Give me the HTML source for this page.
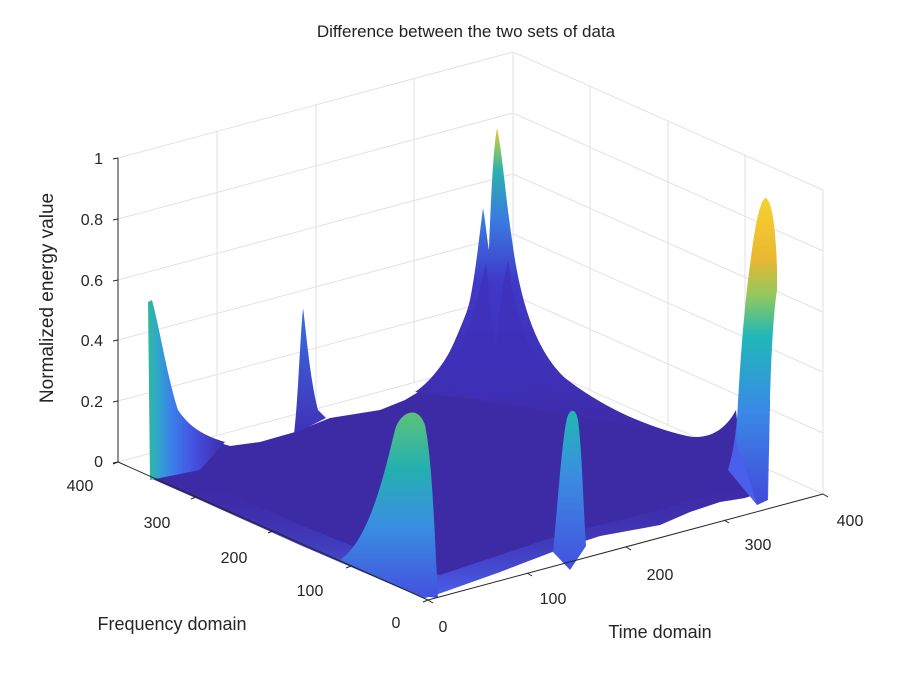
<!DOCTYPE html>
<html><head><meta charset="utf-8"><style>
body{margin:0;background:#fff;}
svg{display:block;font-family:"Liberation Sans",sans-serif;}
</style></head><body>
<svg width="900" height="678" viewBox="0 0 900 678">
<defs>
<linearGradient id="gl" x1="0" y1="0" x2="1" y2="0"><stop offset="0" stop-color="#2fb8a0"/><stop offset="0.12" stop-color="#30a8c8"/><stop offset="0.3" stop-color="#3c80ec"/><stop offset="0.6" stop-color="#4450e0"/><stop offset="1" stop-color="#3e2ba8"/></linearGradient>
<linearGradient id="gc" x1="0" y1="0" x2="0" y2="1"><stop offset="0" stop-color="#f2c43a"/><stop offset="0.06" stop-color="#8cc860"/><stop offset="0.14" stop-color="#2cb0b0"/><stop offset="0.3" stop-color="#3a7ae0"/><stop offset="0.5" stop-color="#4038c8"/><stop offset="1" stop-color="#3e2aa8"/></linearGradient>
<linearGradient id="gr" x1="0" y1="0" x2="0" y2="1"><stop offset="0" stop-color="#f8d030"/><stop offset="0.2" stop-color="#e8b830"/><stop offset="0.32" stop-color="#90c860"/><stop offset="0.45" stop-color="#20b8b8"/><stop offset="0.7" stop-color="#3a88e8"/><stop offset="1" stop-color="#4448d8"/></linearGradient>
<linearGradient id="gm" x1="0" y1="0" x2="0" y2="1"><stop offset="0" stop-color="#5cc27a"/><stop offset="0.3" stop-color="#24b0b0"/><stop offset="0.6" stop-color="#3890e0"/><stop offset="1" stop-color="#4450e0"/></linearGradient>
<linearGradient id="gn" x1="0" y1="0" x2="0" y2="1"><stop offset="0" stop-color="#20b8b0"/><stop offset="0.4" stop-color="#3a8ee0"/><stop offset="1" stop-color="#4450e0"/></linearGradient>
<linearGradient id="gs" x1="0" y1="0" x2="0" y2="1"><stop offset="0" stop-color="#3a70e0"/><stop offset="1" stop-color="#4030b8"/></linearGradient>
<linearGradient id="gf" x1="0" y1="0" x2="0" y2="1"><stop offset="0" stop-color="#3e2ba8" stop-opacity="0"/><stop offset="1" stop-color="#4a62f0"/></linearGradient>
</defs>
<text x="466" y="37" font-size="17" text-anchor="middle" fill="#222">Difference between the two sets of data</text>
<g stroke="#e2e2e2" stroke-width="1" fill="none">
<line x1="513" y1="52" x2="513" y2="356"/>
<line x1="118" y1="158" x2="513" y2="52"/>
<line x1="513" y1="52" x2="823" y2="190"/>
<line x1="823" y1="190" x2="823" y2="494"/>
<line x1="118" y1="219" x2="513" y2="113"/><line x1="118" y1="280" x2="513" y2="174"/><line x1="118" y1="340" x2="513" y2="234"/><line x1="118" y1="401" x2="513" y2="295"/><line x1="118" y1="462" x2="513" y2="356"/>
<line x1="513" y1="113" x2="823" y2="251"/><line x1="513" y1="174" x2="823" y2="312"/><line x1="513" y1="234" x2="823" y2="372"/><line x1="513" y1="295" x2="823" y2="433"/><line x1="513" y1="356" x2="823" y2="494"/>
<line x1="217" y1="132" x2="217" y2="436"/><line x1="316" y1="105" x2="316" y2="409"/><line x1="414" y1="79" x2="414" y2="383"/>
<line x1="590" y1="86" x2="590" y2="390"/><line x1="668" y1="121" x2="668" y2="425"/><line x1="745" y1="155" x2="745" y2="459"/>
</g>
<path fill="#3d2aa5" d="M150,478 L152,440 L210,440 L230,446 L260,442 L295,432 L330,418 L380,410 L405,400 L425,388 C445,370 460,330 475,290 L500,260 C515,300 530,350 560,378 C600,405 650,430 693,437 C715,438 728,425 736,410 L742,470 L768,490 L745,498 L720,502 L690,512 L660,525 L600,536 L560,549 L500,572 L438,594 L425,598 L400,588 L300,545 L200,500 Z"/>
<path fill="url(#gf)" d="M150,478 L200,480 L300,525 L400,565 L440,575 L500,555 L560,535 L660,510 L760,478 L768,490 L745,498 L720,502 L690,512 L660,525 L600,536 L560,549 L500,572 L438,594 L425,598 L400,588 L300,545 L200,500 Z"/>
<path fill="url(#gs)" d="M294,434 C298,400 300,340 303,308 C306,330 310,380 318,410 L326,418 Z"/>
<path fill="url(#gl)" d="M148,302 L152,300 C160,330 168,380 178,410 C190,428 205,436 225,442 L200,470 L150,480 Z"/>
<path fill="url(#gc)" d="M415,392 C440,375 460,340 470,300 C476,270 480,230 483,208 C486,225 487,240 489,250 C491,200 493,150 497,128 C502,150 506,200 512,240 C520,300 535,350 565,378 C600,405 640,425 690,437 L600,420 L480,400 Z"/>
<path fill="#3f30b8" opacity="0.75" d="M440,385 C465,350 478,300 486,262 C490,300 492,330 496,350 C500,300 504,280 508,260 C515,320 530,360 560,385 L480,400 Z"/>
<path fill="#4a60ec" d="M728,470 C734,450 736,430 738,410 L770,400 L768,500 L757,505 Z"/>
<path fill="url(#gr)" d="M736,440 C738,400 741,340 748,280 C752,250 757,205 765,198 C772,198 776,230 777,270 L777,290 C771,330 770,400 767,500 L757,505 C750,480 742,460 736,440 Z"/>
<path fill="url(#gm)" d="M340,560 C370,540 385,470 395,430 C400,412 418,404 425,425 C432,460 434,520 438,598 L420,596 Z"/>
<path fill="url(#gn)" d="M553,552 C558,500 562,440 567,418 C570,408 576,408 578,420 C582,450 583,500 586,546 L570,570 Z"/>
<g stroke="#262626" stroke-width="1" fill="none">
<line x1="118" y1="158" x2="118" y2="462"/>
<line x1="118" y1="462" x2="428" y2="600"/>
<line x1="428" y1="600" x2="823" y2="494"/>
<line x1="113" y1="159" x2="118" y2="158"/><line x1="113" y1="220" x2="118" y2="219"/><line x1="113" y1="281" x2="118" y2="280"/><line x1="113" y1="341" x2="118" y2="340"/><line x1="113" y1="402" x2="118" y2="401"/><line x1="113" y1="463" x2="118" y2="462"/>
<line x1="118" y1="462" x2="113" y2="464"/><line x1="196" y1="497" x2="191" y2="499"/><line x1="273" y1="531" x2="268" y2="533"/><line x1="351" y1="566" x2="346" y2="568"/><line x1="428" y1="600" x2="423" y2="602"/>
<line x1="428" y1="600" x2="433" y2="603"/><line x1="527" y1="573" x2="532" y2="576"/><line x1="626" y1="547" x2="631" y2="550"/><line x1="724" y1="520" x2="729" y2="523"/><line x1="823" y1="494" x2="828" y2="497"/>
</g>
<g font-size="16" fill="#262626">
<text x="103" y="164" text-anchor="end">1</text>
<text x="103" y="225" text-anchor="end">0.8</text>
<text x="103" y="286" text-anchor="end">0.6</text>
<text x="103" y="346" text-anchor="end">0.4</text>
<text x="103" y="407" text-anchor="end">0.2</text>
<text x="103" y="467" text-anchor="end">0</text>
<text x="80" y="491" text-anchor="middle">400</text>
<text x="157" y="528" text-anchor="middle">300</text>
<text x="234" y="563" text-anchor="middle">200</text>
<text x="310" y="596" text-anchor="middle">100</text>
<text x="396" y="628" text-anchor="middle">0</text>
<text x="443" y="632" text-anchor="middle">0</text>
<text x="553" y="604" text-anchor="middle">100</text>
<text x="660" y="580" text-anchor="middle">200</text>
<text x="758" y="550" text-anchor="middle">300</text>
<text x="850" y="526" text-anchor="middle">400</text>
</g>
<g font-size="18" fill="#262626">
<text x="172" y="630" text-anchor="middle">Frequency domain</text>
<text x="660" y="638" text-anchor="middle">Time domain</text>
<text transform="translate(53,298) rotate(-90)" text-anchor="middle" font-size="19">Normalized energy value</text>
</g>
</svg>
</body></html>
